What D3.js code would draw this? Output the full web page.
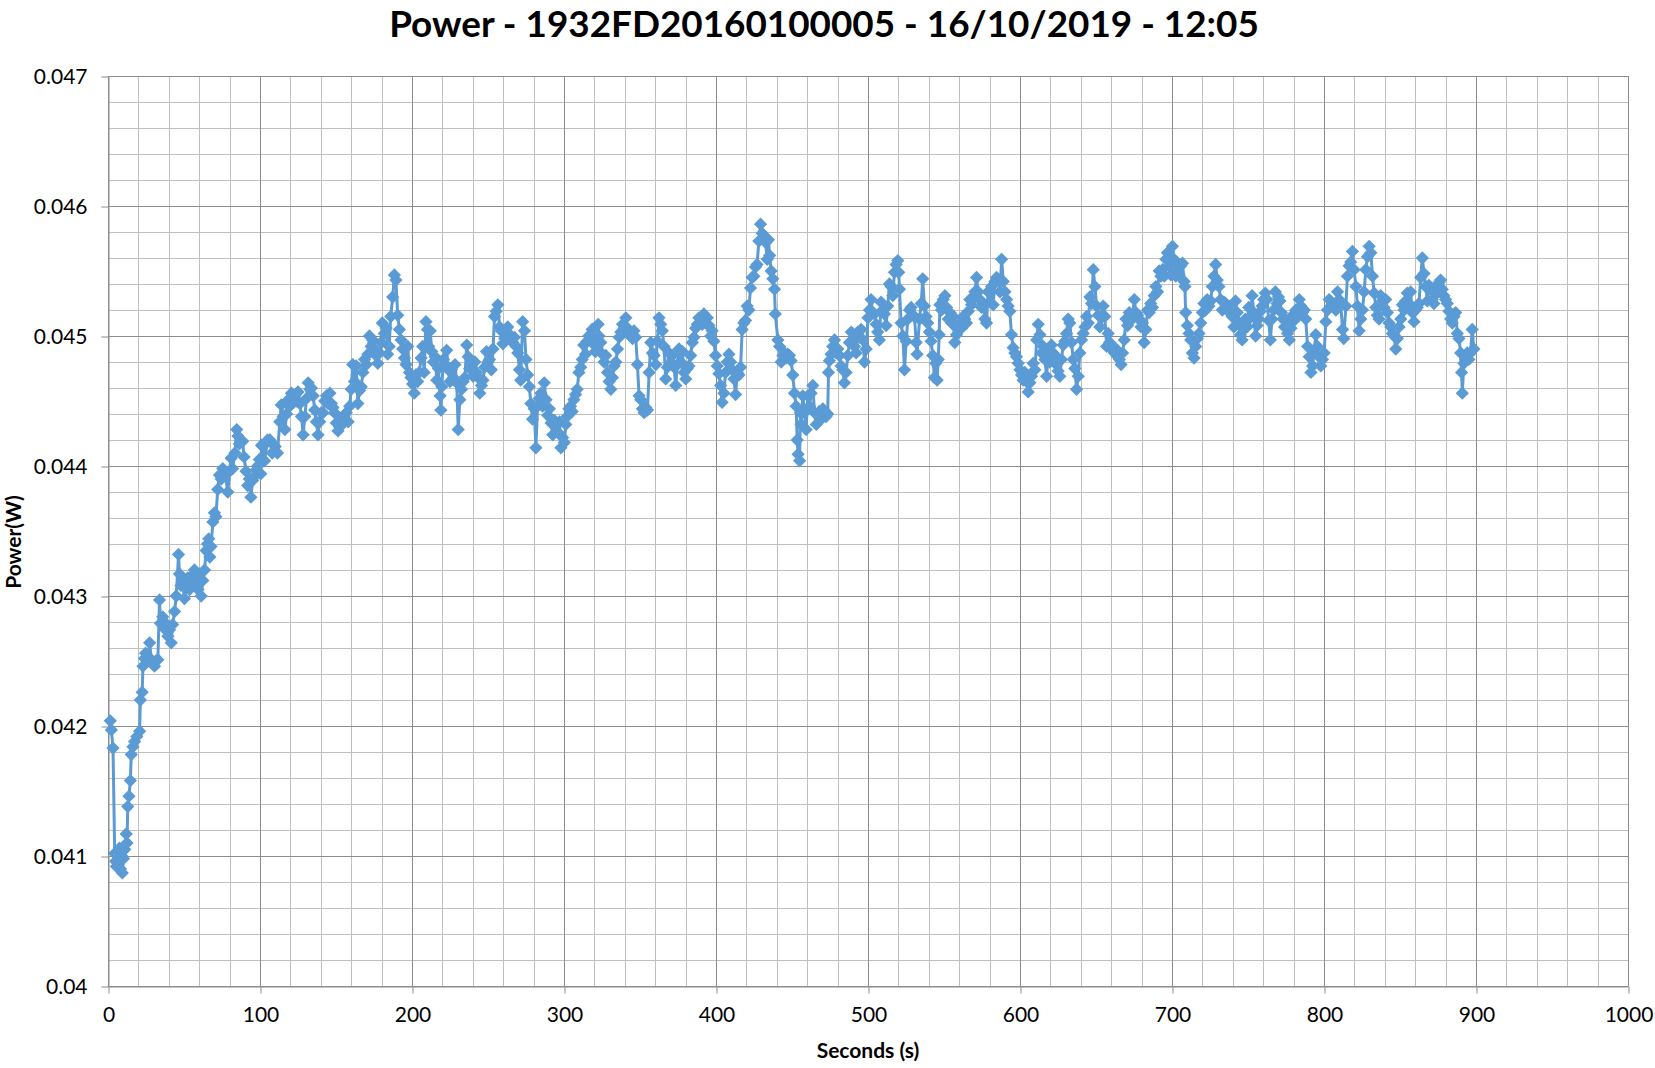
<!DOCTYPE html>
<html><head><meta charset="utf-8">
<script src="https://cdn.jsdelivr.net/npm/d3@7"></script>
<style>
html,body{margin:0;padding:0;background:#fff;}
svg{display:block;}
text{font-family: Lato, "Open Sans", "DejaVu Sans", sans-serif;}
</style></head><body>
<svg id="chart" width="1655" height="1068"></svg>
<script>
const chartTitle = "Power - 1932FD20160100005 - 16/10/2019 - 12:05";
const xAxisTitle = "Seconds (s)";
const yAxisTitle = "Power(W)";
const xTickValues = [0,100,200,300,400,500,600,700,800,900,1000];
const xTickLabels = ["0","100","200","300","400","500","600","700","800","900","1000"];
const yTickValues = [0.040,0.041,0.042,0.043,0.044,0.045,0.046,0.047];
const yTickLabels = ["0.04","0.041","0.042","0.043","0.044","0.045","0.046","0.047"];

const seconds = [
1.5,2.2,3.3,4.4,5.0,5.5,6.2,6.8,7.5,8.2,9.0,9.4,10.2,11.0,12.0,12.5,13.0,13.8,14.7,15.3,16.4,17.5,19.0,20.8,21.3,22.5,23.0,24.0,24.7,26.0,27.4,28.5,30.6,31.5,32.8,33.9,34.5,36.0,37.0,38.0,39.4,40.5,41.6,42.5,43.8,44.9,46.4,47.0,48.0,49.2,50.3,51.5,52.5,53.6,54.7,55.8,56.9,58.0,59.2,60.2,61.3,62.4,63.5,64.6,65.5,66.3,67.0,67.8,69.0,70.0,71.0,72.2,73.3,74.5,75.5,77.0,78.8,80.0,81.0,82.0,83.5,84.7,85.5,86.4,87.5,88.6,89.5,90.8,91.9,93.0,94.0,95.2,96.3,97.4,98.5,99.6,
100.5,101.0,101.8,103.0,105.0,106.5,108.0,110.0,111.5,113.0,
114.0,115.2,116.4,117.5,118.6,119.6,120.7,122.0,123.0,124.0,
125.0,126.2,127.3,128.4,129.5,130.6,131.7,132.8,133.8,135.0,
136.0,137.1,138.2,139.3,140.4,141.5,142.6,143.7,144.8,146.0,
147.0,148.0,149.0,150.2,151.3,152.4,153.5,154.6,155.7,156.8,
158.0,159.0,160.0,161.0,162.2,163.3,164.4,165.5,166.6,167.7,
168.8,170.0,171.0,172.0,173.1,174.2,175.3,176.4,177.5,178.6,
179.7,180.5,181.8,183.0,184.0,185.0,186.0,187.3,188.4,189.4,
190.6,191.7,192.8,193.9,195.0,196.1,197.2,198.3,199.3,200.4,
201.5,202.6,203.7,204.8,206.0,207.0,208.0,
209.2,210.2,211.0,212.0,213.0,214.1,215.2,216.3,217.4,218.5,
219.0,219.6,220.7,221.8,222.8,224.0,225.0,226.0,227.2,228.3,
229.4,230.4,231.5,232.6,233.7,234.8,236.0,237.0,238.0,239.0,
240.2,241.3,242.4,243.5,244.6,245.7,246.7,247.8,249.0,250.0,
251.0,252.2,253.3,254.3,255.4,256.5,257.6,258.7,259.8,261.0,
262.0,263.0,264.1,265.2,266.3,267.4,268.5,269.6,270.7,271.5,
272.8,274.0,275.0,276.1,277.2,278.2,279.3,280.4,281.5,282.6,
283.7,284.8,285.9,287.0,288.2,289.3,290.4,291.5,292.6,293.7,
294.8,295.9,297.0,298.0,299.1,300.2,301.2,302.0,303.2,304.3,
305.4,306.5,307.6,308.7,309.8,311.0,312.0,313.0,314.2,315.2,
316.3,317.4,318.5,319.6,320.6,321.7,
322.5,323.0,324.2,325.3,326.4,327.5,328.6,329.7,330.8,331.9,
333.0,334.1,335.2,336.3,337.4,338.5,339.6,340.7,341.8,342.9,
344.0,345.1,346.0,347.2,348.3,349.4,350.5,351.6,352.7,353.8,
354.9,356.0,357.1,358.2,359.3,360.4,361.4,362.5,363.6,364.7,
365.8,366.9,368.0,369.0,370.2,371.3,372.4,373.5,374.6,375.7,
376.8,377.9,379.0,380.1,381.1,382.2,383.3,384.4,385.5,386.6,
387.7,388.8,389.9,391.0,392.0,393.2,394.3,395.4,396.5,397.5,
398.6,399.7,400.8,401.9,403.0,404.0,405.2,406.3,407.4,408.5,
409.6,410.7,411.8,412.9,414.0,415.1,416.2,417.2,418.3,419.4,
420.5,421.6,422.7,423.8,424.9,426.0,427.0,428.2,429.3,430.4,
431.5,432.6,433.7,
434.5,435.3,436.3,437.4,438.5,439.0,440.7,441.8,442.9,444.0,
445.0,446.1,447.2,448.3,449.4,450.5,451.6,452.7,453.4,454.0,
455.0,455.5,456.0,457.1,458.2,459.3,460.4,461.5,462.6,463.7,
464.8,466.0,467.0,468.0,469.2,470.3,471.4,472.4,473.5,474.0,
474.6,475.7,476.8,478.0,479.0,480.1,481.2,482.3,483.4,484.5,
485.6,486.7,487.8,489.0,490.0,491.1,492.2,493.3,494.4,495.5,
496.6,497.7,498.8,500.0,501.0,502.0,503.2,504.3,505.4,506.4,
507.5,508.6,509.7,510.8,511.9,513.0,514.1,515.2,516.3,517.4,
518.5,519.6,520.2,520.7,521.8,522.9,524.0,525.1,526.2,527.3,
528.4,529.5,530.6,531.7,532.3,533.9,535.0,536.0,537.1,538.2,
539.3,540.4,541.5,542.6,543.7,544.5,545.5,
546.2,546.8,547.3,548.4,549.5,550.6,551.7,552.8,553.9,555.0,
556.0,557.1,558.2,559.3,560.4,561.5,562.6,563.7,564.8,566.0,
567.0,568.1,569.2,570.3,571.4,572.5,573.6,574.7,575.8,576.9,
578.0,579.0,580.2,581.3,582.4,583.5,584.6,585.7,586.8,587.9,
589.0,590.1,591.2,592.2,593.3,594.4,595.5,596.6,597.7,598.8,
600.0,601.0,602.1,603.2,604.3,605.4,606.5,607.6,608.7,609.8,
611.0,612.0,613.1,614.2,615.3,616.4,617.5,618.6,619.6,620.7,
621.8,623.0,624.0,625.1,626.2,627.3,628.4,629.5,630.6,631.7,
632.8,633.9,635.0,636.1,637.2,638.3,639.4,640.5,641.6,642.7,
643.8,644.9,646.0,647.1,648.2,649.3,650.4,651.5,652.5,653.6,
654.7,655.8,657.0,
658.0,659.0,660.0,661.0,662.1,663.2,664.3,665.4,666.5,667.5,
668.6,669.7,670.8,671.9,673.0,674.0,675.2,676.3,677.4,678.5,
679.6,680.6,681.7,682.8,684.0,685.0,686.0,687.2,688.3,689.4,
690.5,691.6,692.7,693.8,694.9,696.0,697.0,698.1,699.2,700.3,
701.4,702.5,703.6,704.7,705.8,706.9,708.0,708.5,709.0,710.1,
711.2,712.3,713.4,714.5,715.6,716.7,717.8,718.9,720.0,721.0,
722.1,723.2,724.3,725.4,726.5,727.6,728.7,729.8,730.9,732.0,
733.1,734.2,735.2,736.3,737.4,738.5,739.6,740.7,741.8,742.9,
744.0,745.0,746.1,747.2,748.3,749.4,750.5,751.6,752.7,753.8,
755.0,756.0,757.0,758.2,759.3,760.3,761.4,762.5,763.6,764.7,
765.8,766.9,
768.0,769.1,770.0,771.0,772.0,773.0,774.0,775.0,776.0,777.2,
778.3,779.3,780.4,781.5,782.6,783.7,784.8,785.9,787.0,788.0,
789.2,790.3,791.4,792.5,793.5,794.6,795.7,796.8,797.9,799.0,
800.1,801.2,802.3,803.4,804.5,805.6,806.7,807.8,808.9,810.0,
811.0,812.2,813.0,814.4,815.4,816.5,817.6,818.7,819.8,821.0,
822.0,823.1,824.2,825.3,826.4,827.5,828.6,829.7,830.8,831.9,
833.0,834.1,835.1,836.2,837.3,838.4,839.5,840.6,841.7,842.8,
843.9,845.0,846.1,847.2,848.3,849.4,850.5,851.6,852.7,853.7,
854.8,855.9,857.0,858.1,859.2,860.3,861.4,862.5,863.6,864.7,
865.8,866.9,868.0,869.0,870.1,871.2,872.3,873.4,874.5,875.6,
876.7,877.8,878.9,880.0,881.1,882.2,883.3,884.4,885.5,886.6,
887.7,888.8,889.9,890.5,891.0,892.0,893.1,894.2,895.3,896.4,
897.5,898.6
];

const power = [
0.04204,0.04197,0.04183,0.04102,0.04096,0.04092,0.04103,0.04094,0.04106,0.04090,0.04100,0.04087,0.04098,0.04105,0.04117,0.04110,0.04138,0.04146,0.04158,0.04178,0.04184,0.04188,0.04192,0.04196,0.04220,0.04226,0.04246,0.04252,0.04256,0.04250,0.04264,0.04251,0.04246,0.04250,0.04251,0.04297,0.04279,0.04284,0.04275,0.04279,0.04269,0.04274,0.04264,0.04278,0.04288,0.04300,0.04332,0.04317,0.04308,0.04310,0.04298,0.04308,0.04314,0.04305,0.04315,0.04312,0.04320,0.04310,0.04305,0.04317,0.04300,0.04312,0.04320,0.04335,0.04340,0.04344,0.04330,0.04338,0.04357,0.04364,0.04361,0.04382,0.04393,0.04390,0.04398,0.04394,0.04380,0.04396,0.04406,0.04398,0.04410,0.04428,0.04423,0.04417,0.04420,0.04419,0.04407,0.04396,0.04385,0.04390,0.04376,0.04389,0.04392,0.04397,0.04400,0.04405,
0.04394,0.04416,0.04415,0.04404,0.04420,0.04420,0.04410,0.04415,0.04410,0.04434,
0.04447,0.04438,0.04428,0.04440,0.04451,0.04446,0.04456,0.04449,0.04454,0.04450,
0.04457,0.04448,0.04438,0.04424,0.04438,0.04452,0.04464,0.04459,0.04460,0.04454,
0.04443,0.04434,0.04424,0.04434,0.04441,0.04441,0.04450,0.04454,0.04448,0.04456,
0.04448,0.04445,0.04441,0.04433,0.04427,0.04430,0.04435,0.04438,0.04434,0.04441,
0.04434,0.04446,0.04459,0.04478,0.04465,0.04477,0.04448,0.04458,0.04461,0.04472,
0.04482,0.04478,0.04486,0.04500,0.04492,0.04497,0.04490,0.04485,0.04479,0.04487,
0.04495,0.04510,0.04502,0.04506,0.04486,0.04492,0.04515,0.04530,0.04547,0.04543,
0.04516,0.04505,0.04497,0.04490,0.04483,0.04478,0.04492,0.04472,0.04468,0.04463,
0.04456,0.04470,0.04465,0.04472,0.04483,0.04492,0.04472,
0.04511,0.04505,0.04492,0.04504,0.04488,0.04480,0.04484,0.04466,0.04475,0.04454,
0.04443,0.04461,0.04482,0.04478,0.04489,0.04474,0.04465,0.04474,0.04468,0.04478,
0.04464,0.04428,0.04451,0.04459,0.04465,0.04468,0.04493,0.04484,0.04475,0.04477,
0.04469,0.04480,0.04472,0.04468,0.04456,0.04462,0.04466,0.04476,0.04488,0.04480,
0.04482,0.04474,0.04490,0.04515,0.04519,0.04524,0.04507,0.04504,0.04494,0.04498,
0.04502,0.04507,0.04498,0.04500,0.04495,0.04499,0.04492,0.04487,0.04474,0.04466,
0.04511,0.04504,0.04482,0.04470,0.04461,0.04448,0.04436,0.04444,0.04414,0.04446,
0.04452,0.04456,0.04446,0.04464,0.04451,0.04439,0.04444,0.04433,0.04424,0.04435,
0.04431,0.04426,0.04434,0.04414,0.04422,0.04418,0.04432,0.04438,0.04444,0.04446,
0.04442,0.04451,0.04455,0.04459,0.04472,0.04476,0.04482,0.04493,0.04486,0.04496,
0.04500,0.04496,0.04505,0.04495,0.04488,0.04491,
0.04509,0.04500,0.04495,0.04486,0.04480,0.04485,0.04472,0.04465,0.04459,0.04468,
0.04477,0.04480,0.04490,0.04499,0.04503,0.04509,0.04506,0.04514,0.04506,0.04501,
0.04503,0.04498,0.04504,0.04499,0.04478,0.04454,0.04451,0.04444,0.04441,0.04445,
0.04443,0.04472,0.04495,0.04487,0.04485,0.04478,0.04496,0.04514,0.04509,0.04504,
0.04492,0.04467,0.04476,0.04487,0.04479,0.04485,0.04476,0.04462,0.04478,0.04490,
0.04480,0.04488,0.04472,0.04467,0.04475,0.04477,0.04485,0.04495,0.04499,0.04506,
0.04509,0.04514,0.04513,0.04509,0.04517,0.04510,0.04514,0.04508,0.04500,0.04504,
0.04496,0.04485,0.04477,0.04471,0.04462,0.04449,0.04456,0.04472,0.04480,0.04486,
0.04480,0.04474,0.04467,0.04455,0.04472,0.04470,0.04476,0.04505,0.04510,0.04512,
0.04523,0.04520,0.04537,0.04545,0.04546,0.04553,0.04555,0.04573,0.04586,0.04579,
0.04576,0.04572,0.04559,
0.04574,0.04562,0.04550,0.04544,0.04536,0.04517,0.04497,0.04492,0.04480,0.04485,
0.04487,0.04483,0.04486,0.04485,0.04481,0.04470,0.04456,0.04446,0.04420,0.04409,
0.04404,0.04441,0.04432,0.04454,0.04441,0.04428,0.04454,0.04446,0.04456,0.04462,
0.04441,0.04432,0.04439,0.04442,0.04436,0.04444,0.04441,0.04438,0.04440,0.04472,
0.04481,0.04486,0.04492,0.04497,0.04487,0.04490,0.04485,0.04477,0.04474,0.04464,
0.04472,0.04485,0.04495,0.04503,0.04497,0.04492,0.04487,0.04503,0.04499,0.04505,
0.04497,0.04480,0.04490,0.04514,0.04520,0.04528,0.04518,0.04517,0.04509,0.04503,
0.04497,0.04526,0.04520,0.04517,0.04508,0.04523,0.04540,0.04538,0.04531,0.04549,
0.04555,0.04558,0.04549,0.04536,0.04510,0.04500,0.04474,0.04496,0.04513,0.04520,
0.04522,0.04516,0.04515,0.04495,0.04486,0.04513,0.04525,0.04544,0.04523,0.04515,
0.04510,0.04503,0.04496,0.04485,0.04468,0.04479,0.04466,
0.04482,0.04501,0.04524,0.04520,0.04528,0.04531,0.04522,0.04513,0.04518,0.04510,
0.04515,0.04495,0.04501,0.04505,0.04510,0.04506,0.04515,0.04513,0.04510,0.04519,
0.04528,0.04524,0.04529,0.04534,0.04545,0.04534,0.04528,0.04522,0.04525,0.04513,
0.04510,0.04534,0.04526,0.04538,0.04524,0.04542,0.04545,0.04543,0.04534,0.04559,
0.04542,0.04534,0.04528,0.04523,0.04519,0.04501,0.04491,0.04487,0.04484,0.04479,
0.04474,0.04470,0.04466,0.04472,0.04465,0.04457,0.04464,0.04469,0.04479,0.04474,
0.04497,0.04509,0.04501,0.04487,0.04492,0.04482,0.04469,0.04487,0.04480,0.04493,
0.04487,0.04479,0.04484,0.04473,0.04469,0.04482,0.04493,0.04496,0.04502,0.04513,
0.04510,0.04495,0.04482,0.04475,0.04459,0.04469,0.04487,0.04497,0.04502,0.04507,
0.04515,0.04510,0.04530,0.04525,0.04551,0.04538,0.04523,0.04516,0.04507,0.04514,
0.04523,0.04515,0.04492,
0.04502,0.04495,0.04492,0.04489,0.04487,0.04490,0.04484,0.04482,0.04478,0.04487,
0.04497,0.04513,0.04508,0.04518,0.04512,0.04515,0.04528,0.04518,0.04516,0.04513,
0.04507,0.04510,0.04495,0.04505,0.04520,0.04518,0.04525,0.04522,0.04531,0.04538,
0.04534,0.04550,0.04546,0.04551,0.04546,0.04559,0.04564,0.04554,0.04547,0.04569,
0.04559,0.04546,0.04550,0.04547,0.04554,0.04556,0.04542,0.04538,0.04518,0.04508,
0.04502,0.04497,0.04487,0.04483,0.04492,0.04498,0.04502,0.04510,0.04518,0.04525,
0.04520,0.04528,0.04523,0.04527,0.04538,0.04546,0.04555,0.04543,0.04538,0.04528,
0.04520,0.04526,0.04525,0.04520,0.04523,0.04518,0.04515,0.04507,0.04527,0.04518,
0.04510,0.04501,0.04497,0.04505,0.04513,0.04507,0.04522,0.04514,0.04531,0.04518,
0.04500,0.04508,0.04513,0.04519,0.04523,0.04528,0.04533,0.04528,0.04512,0.04497,
0.04513,0.04520,
0.04534,0.04525,0.04530,0.04527,0.04518,0.04513,0.04507,0.04512,0.04502,0.04497,
0.04506,0.04516,0.04512,0.04520,0.04516,0.04528,0.04523,0.04518,0.04520,0.04513,
0.04492,0.04484,0.04472,0.04477,0.04488,0.04501,0.04492,0.04484,0.04477,0.04482,
0.04487,0.04511,0.04520,0.04528,0.04523,0.04525,0.04523,0.04520,0.04534,0.04528,
0.04525,0.04505,0.04498,0.04523,0.04546,0.04554,0.04557,0.04565,0.04551,0.04538,
0.04523,0.04504,0.04513,0.04520,0.04534,0.04551,0.04561,0.04569,0.04564,0.04546,
0.04533,0.04522,0.04516,0.04513,0.04531,0.04527,0.04522,0.04528,0.04518,0.04510,
0.04507,0.04502,0.04500,0.04490,0.04498,0.04507,0.04513,0.04524,0.04520,0.04527,
0.04533,0.04525,0.04534,0.04518,0.04511,0.04520,0.04522,0.04525,0.04545,0.04560,
0.04548,0.04538,0.04527,0.04539,0.04536,0.04528,0.04525,0.04532,0.04538,0.04541,
0.04543,0.04536,0.04531,0.04528,0.04525,0.04519,0.04513,0.04510,0.04515,0.04518,
0.04502,0.04498,0.04487,0.04472,0.04456,0.04479,0.04482,0.04487,0.04482,0.04487,
0.04505,0.04490
];

const lineColor = "#5B9BD5";
const n = Math.min(seconds.length, power.length);
const data = d3.range(n).map(i => ({t: seconds[i], p: power[i]}));

const svg = d3.select("#chart");
const x = d3.scaleLinear().domain([0, 1000]).range([108, 1628]);
const y = d3.scaleLinear().domain([0.040, 0.047]).range([986, 76]);
const crisp = v => Math.round(v) + 0.5;

// minor grid
const xMinor = d3.range(0, 1001, 20).filter(v => v % 100 !== 0);
const yMinor = d3.range(1, 35).filter(i => i % 5 !== 0).map(i => 0.040 + i * 0.0002);
const grid = svg.append("g");
grid.selectAll("line.xm").data(xMinor).join("line")
  .attr("x1", d => crisp(x(d))).attr("x2", d => crisp(x(d)))
  .attr("y1", y(0.047)).attr("y2", y(0.040))
  .attr("stroke", "#bfbfbf").attr("stroke-width", 1);
grid.selectAll("line.ym").data(yMinor).join("line")
  .attr("y1", d => crisp(y(d))).attr("y2", d => crisp(y(d)))
  .attr("x1", x(0)).attr("x2", x(1000))
  .attr("stroke", "#bfbfbf").attr("stroke-width", 1);
// major grid
grid.selectAll("line.xM").data(xTickValues).join("line")
  .attr("x1", d => crisp(x(d))).attr("x2", d => crisp(x(d)))
  .attr("y1", y(0.047)).attr("y2", y(0.040))
  .attr("stroke", "#8c8c8c").attr("stroke-width", 1);
grid.selectAll("line.yM").data(yTickValues).join("line")
  .attr("y1", d => crisp(y(d))).attr("y2", d => crisp(y(d)))
  .attr("x1", x(0)).attr("x2", x(1000))
  .attr("stroke", "#8c8c8c").attr("stroke-width", 1);

// axes
const yAxis = svg.append("g").attr("transform", `translate(${crisp(x(0))},0.5)`)
  .call(d3.axisLeft(y).tickValues(yTickValues).tickFormat((d, i) => yTickLabels[i])
    .tickSize(7).tickSizeOuter(0).tickPadding(14));
const xAxis = svg.append("g").attr("transform", `translate(0.5,${crisp(y(0.040))})`)
  .call(d3.axisBottom(x).tickValues(xTickValues).tickFormat((d, i) => xTickLabels[i])
    .tickSize(7).tickSizeOuter(0).tickPadding(14));
[yAxis, xAxis].forEach(a => {
  a.select(".domain").attr("stroke", "#8c8c8c");
  a.selectAll(".tick line").attr("stroke", "#8c8c8c");
  a.selectAll(".tick text").attr("fill", "#000").style("font-size", "21px")
   .style("font-family", "Lato, 'Open Sans', sans-serif");
});

// line
const line = d3.line().x(d => x(d.t)).y(d => y(d.p));
svg.append("path").datum(data).attr("d", line)
  .attr("fill", "none").attr("stroke", lineColor).attr("stroke-width", 3)
  .attr("stroke-linejoin", "round");

// markers (diamonds)
const sym = d3.symbol().type(d3.symbolSquare).size(88);
svg.append("g").selectAll("path").data(data).join("path")
  .attr("d", sym)
  .attr("transform", d => `translate(${x(d.t)},${y(d.p)}) rotate(45)`)
  .attr("fill", lineColor);

// title
const title = svg.append("text").attr("x", 824).attr("y", 37)
  .attr("text-anchor", "middle").style("font-weight", "bold").style("font-size", "37px")
  .attr("fill", "#000").text(chartTitle);
const tw = title.node().getComputedTextLength();
title.style("font-size", (37 * 870 / tw).toFixed(2) + "px");

// axis titles
svg.append("text").attr("x", 868).attr("y", 1058).attr("text-anchor", "middle")
  .style("font-weight", "bold").style("font-size", "21px").attr("fill", "#000").text(xAxisTitle);
svg.append("text").attr("transform", "translate(21,542) rotate(-90)").attr("text-anchor", "middle")
  .style("font-weight", "bold").style("font-size", "21px").attr("fill", "#000").text(yAxisTitle);
</script>
</body></html>
